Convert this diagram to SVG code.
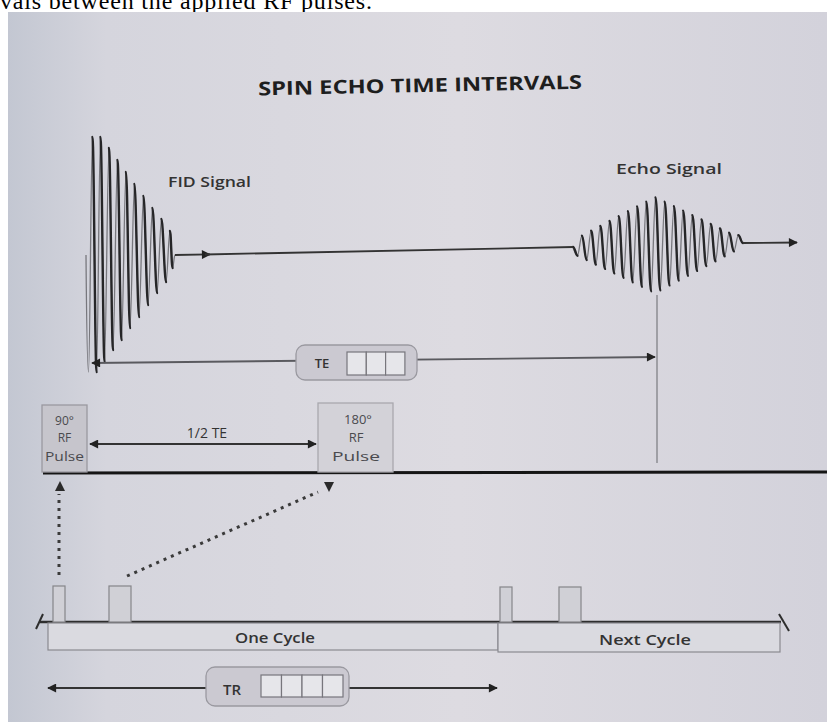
<svg xmlns="http://www.w3.org/2000/svg" width="827" height="722" viewBox="0 0 827 722">
<defs>
<linearGradient id="bg" x1="0" y1="0" x2="1" y2="0">
<stop offset="0" stop-color="#c3c7d2"/>
<stop offset="0.12" stop-color="#d5d5dd"/>
<stop offset="0.55" stop-color="#dddbe1"/>
<stop offset="1" stop-color="#d3d2db"/>
</linearGradient>
<marker id="ah" viewBox="0 0 10 10" refX="9" refY="5" markerWidth="11" markerHeight="9" markerUnits="userSpaceOnUse" orient="auto-start-reverse"><path d="M0,0 L10,5 L0,10 z" fill="#222"/></marker>
<style>
.wave{fill:none;stroke:#77777d;stroke-width:1.3;stroke-linejoin:round}
.down{fill:none;stroke:#262628;stroke-width:2.4;stroke-linecap:round}
.conn{fill:none;stroke:#333;stroke-width:1.8}
.gray{fill:none;stroke:#5a5a5f;stroke-width:1.8}
.dot{fill:none;stroke:#3a3a3a;stroke-width:3;stroke-dasharray:3 5}
.lbl{font-family:"Open Sans","Liberation Sans",sans-serif;fill:#333;font-weight:600}
.sm{font-family:"Open Sans","Liberation Sans",sans-serif;fill:#4a4a4e;text-anchor:middle}
.box{fill:#cbc9d1;stroke:#9a99a0;stroke-width:1.3}
.sq{fill:#e6e6ea;stroke:#77767c;stroke-width:1.2}
.pulse{fill:#d0d0d6;stroke:#858589;stroke-width:1.2}
.cyc{fill:#dadae0;stroke:#8a8a90;stroke-width:1.2}
</style>
</defs>
<rect x="0" y="0" width="827" height="722" fill="#ffffff"/>
<text x="0" y="9" font-family="'Liberation Serif',serif" font-size="24" fill="#000" textLength="372">vals between the applied RF pulses.</text>
<rect x="8" y="12" width="819" height="710" fill="url(#bg)"/>

<g id="title">
<text x="420" y="92" transform="rotate(-1.2 420 85)" text-anchor="middle" font-family="'Open Sans','Liberation Sans',sans-serif" font-weight="700" font-size="19" fill="#1e1e1e" textLength="324" lengthAdjust="spacingAndGlyphs">SPIN ECHO TIME INTERVALS</text>
</g>

<g id="fid">
<path class="wave" d="M86,255 S87,372 88.5,372 S91,137 92.5,137 S95,372 96.5,372 S99,137 100.5,137 S103,362 104.5,362 S107.5,148 109,148 S111.5,350 113,350 S116,160 117.5,160 S120,340 121.5,340 S124.5,172 126,172 S128.5,328 130,328 S133,184 134.5,184 S137.5,317 139,317 S142,196 143.5,196 S146.5,305 148,305 S151,208 152.5,208 S155.5,293 157,293 S160,219 161.5,219 S164.5,282 166,282 S168.5,231 170,231 S171.5,268 172.5,268 S174,255 175,255"/>
<path class="down" d="M92.5,137 C94,137 95,372 96.5,372 M100.5,137 C102,137 103,362 104.5,362 M109,148 C110.5,148 111.5,350 113,350 M117.5,160 C119,160 120,340 121.5,340 M126,172 C127.5,172 128.5,328 130,328 M134.5,184 C136,184 137.5,317 139,317 M143.5,196 C145,196 146.5,305 148,305 M152.5,208 C154,208 155.5,293 157,293 M161.5,219 C163,219 164.5,282 166,282 M170,231 C171,231 171.5,268 172.5,268"/>
<text class="lbl" x="168" y="187" font-size="15" textLength="83" lengthAdjust="spacingAndGlyphs">FID Signal</text>
</g>

<g id="echo">
<path class="wave" d="M573,247 S575.8,255.7 577.4,255.7 S580.3,235.7 582.0,235.7 S584.9,260.1 586.6,260.1 S589.5,230.8 591.2,230.8 S594.1,264.6 595.8,264.6 S598.7,226.0 600.4,226.0 S603.3,268.9 605.0,268.9 S607.9,221.0 609.6,221.0 S612.5,273.4 614.2,273.4 S617.1,216.2 618.8,216.2 S621.7,277.8 623.4,277.8 S626.3,211.3 628.0,211.3 S630.9,282.3 632.6,282.3 S635.5,206.5 637.2,206.5 S640.1,286.7 641.8,286.7 S644.7,201.6 646.4,201.6 S649.3,291.2 651.0,291.2 S653.9,197.4 655.6,197.4 S658.5,290.3 660.2,290.3 S663.1,201.8 664.8,201.8 S667.7,285.4 669.4,285.4 S672.3,206.2 674.0,206.2 S676.9,280.6 678.6,280.6 S681.5,210.6 683.2,210.6 S686.1,275.7 687.8,275.7 S690.7,215.1 692.4,215.1 S695.3,270.9 697.0,270.9 S699.9,219.5 701.6,219.5 S704.5,266.0 706.2,266.0 S709.1,224.0 710.8,224.0 S713.7,261.2 715.4,261.2 S718.3,228.4 720.0,228.4 S722.9,256.2 724.6,256.2 S727.5,232.8 729.2,232.8 S732.1,251.4 733.8,251.4 S736.7,235.1 738.4,235.1 S741,243 743,243"/>
<path class="down" d="M573,247 C575,247 575.8,255.7 577.4,255.7 M582,235.7 C583.7,235.7 584.9,260.1 586.6,260.1 M591.2,230.8 C592.9,230.8 594.1,264.6 595.8,264.6 M600.4,226 C602.1,226 603.3,268.9 605,268.9 M609.6,221 C611.3,221 612.5,273.4 614.2,273.4 M618.8,216.2 C620.5,216.2 621.7,277.8 623.4,277.8 M628,211.3 C629.7,211.3 630.9,282.3 632.6,282.3 M637.2,206.5 C638.9,206.5 640.1,286.7 641.8,286.7 M646.4,201.6 C648.1,201.6 649.3,291.2 651,291.2 M655.6,197.4 C657.3,197.4 658.5,290.3 660.2,290.3 M664.8,201.8 C666.5,201.8 667.7,285.4 669.4,285.4 M674,206.2 C675.7,206.2 676.9,280.6 678.6,280.6 M683.2,210.6 C684.9,210.6 686.1,275.7 687.8,275.7 M692.4,215.1 C694.1,215.1 695.3,270.9 697,270.9 M701.6,219.5 C703.3,219.5 704.5,266 706.2,266 M710.8,224 C712.5,224 713.7,261.2 715.4,261.2 M720,228.4 C721.7,228.4 722.9,256.2 724.6,256.2 M729.2,232.8 C730.9,232.8 732.1,251.4 733.8,251.4 M738.4,235.1 C740.1,235.1 741,243 743,243"/>
<text class="lbl" x="616" y="174" font-size="15" textLength="106" lengthAdjust="spacingAndGlyphs">Echo Signal</text>
</g>

<g id="connectors">
<path class="conn" d="M175,255 L210,254.4" marker-end="url(#ah)"/>
<path class="conn" d="M205,254.5 L573,247"/>
<path class="conn" d="M743,243 L797,242.5" marker-end="url(#ah)"/>
<path d="M657,295 L657,463" fill="none" stroke="#8c8c92" stroke-width="1.5"/>
<path class="gray" d="M92,363 L655,357" marker-start="url(#ah)" marker-end="url(#ah)"/>
<path class="conn" d="M90,444 L316,444" marker-start="url(#ah)" marker-end="url(#ah)"/>
<path d="M43,473 L827,472" fill="none" stroke="#151515" stroke-width="3"/>
<path class="dot" d="M59,575 L59,494"/>
<polygon points="55,491 65,491 60,481" fill="#2a2a2a"/>
<path class="dot" d="M127,576 L318,492"/>
<polygon points="324,482 334,482 329,492" fill="#2a2a2a"/>
<path d="M40,622 L781,622" fill="none" stroke="#2e2e2e" stroke-width="2.5"/>
<path d="M36,629 L43,614" fill="none" stroke="#2e2e2e" stroke-width="2"/>
<path d="M779,614 L789,631" fill="none" stroke="#2e2e2e" stroke-width="2"/>
<path class="conn" d="M48,688 L497,688" marker-start="url(#ah)" marker-end="url(#ah)"/>
</g>

<g id="te-label">
<rect class="box" x="296" y="345" width="121" height="35" rx="9"/>
<text class="lbl" x="322" y="368" font-size="13" text-anchor="middle" fill="#2a2a2a">TE</text>
<rect class="sq" x="347" y="352" width="19.3" height="23"/>
<rect class="sq" x="366.3" y="352" width="19.3" height="23"/>
<rect class="sq" x="385.6" y="352" width="19.3" height="23"/>
</g>

<g id="rf90">
<rect class="box" x="42" y="405" width="45" height="67" style="fill:#c6c5cc"/>
<text class="sm" x="64.5" y="425" font-size="12">90°</text>
<text class="sm" x="64.5" y="442" font-size="12">RF</text>
<text class="sm" x="64.5" y="461" font-size="12" textLength="39" lengthAdjust="spacingAndGlyphs">Pulse</text>
</g>

<g id="half-te">
<text class="sm" x="207" y="438" font-size="14" style="fill:#333">1/2 TE</text>
</g>

<g id="rf180">
<rect class="box" x="318" y="403" width="75" height="69" style="fill:#d3d2d8;stroke:#a9a8ae"/>
<text class="sm" x="358" y="424" font-size="13">180°</text>
<text class="sm" x="356" y="442" font-size="13">RF</text>
<text class="sm" x="356" y="461" font-size="13" textLength="48" lengthAdjust="spacingAndGlyphs">Pulse</text>
</g>

<g id="pulses">
<rect class="pulse" x="53" y="586" width="12" height="36"/>
<rect class="pulse" x="109" y="586" width="22" height="36"/>
<rect class="pulse" x="500" y="587" width="12" height="35"/>
<rect class="pulse" x="559" y="587" width="22" height="35"/>
</g>

<g id="one-cycle">
<rect class="cyc" x="48" y="623" width="450" height="27"/>
<text class="lbl" x="275" y="643" font-size="15" text-anchor="middle" textLength="80" lengthAdjust="spacingAndGlyphs">One Cycle</text>
</g>

<g id="next-cycle">
<rect class="cyc" x="498" y="623" width="282" height="29"/>
<text class="lbl" x="645" y="645" font-size="15" text-anchor="middle" textLength="92" lengthAdjust="spacingAndGlyphs">Next Cycle</text>
</g>

<g id="tr-label">
<rect class="box" x="206" y="667" width="143" height="39" rx="9"/>
<text class="lbl" x="232" y="695" font-size="15" text-anchor="middle" fill="#2a2a2a">TR</text>
<rect class="sq" x="261" y="675" width="20.5" height="22"/>
<rect class="sq" x="281.5" y="675" width="20.5" height="22"/>
<rect class="sq" x="302" y="675" width="20.5" height="22"/>
<rect class="sq" x="322.5" y="675" width="20.5" height="22"/>
</g>
</svg>
